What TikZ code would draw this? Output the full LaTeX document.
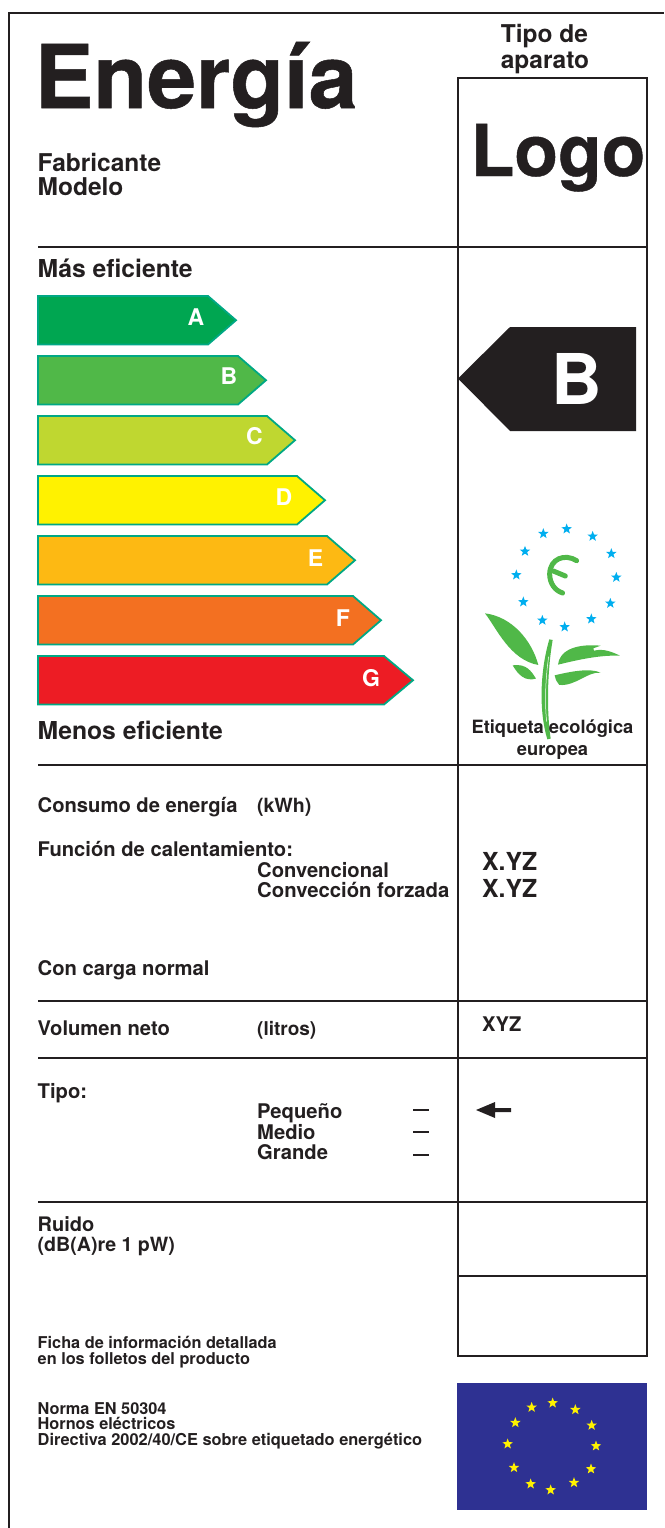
\documentclass[tikz,border=0pt]{standalone}
\usepackage{fontspec}
\setmainfont{TeX Gyre Heros}
\usetikzlibrary{shapes.geometric}
\definecolor{ink}{HTML}{231F20}
\definecolor{teal}{HTML}{00A884}
\definecolor{ca}{HTML}{00A651}
\definecolor{cb}{HTML}{50B848}
\definecolor{cc}{HTML}{BFD730}
\definecolor{cd}{HTML}{FFF200}
\definecolor{ce}{HTML}{FDB913}
\definecolor{cf}{HTML}{F37021}
\definecolor{cg}{HTML}{ED1C24}
\definecolor{flagblue}{HTML}{2E3192}
\definecolor{starblue}{HTML}{00AEEF}
\newcommand{\fs}[1]{\fontsize{#1}{#1}\selectfont\bfseries}
\newcommand{\heavy}{\addfontfeature{FakeBold=0.6}}
\tikzset{
  lbl/.style={anchor=base west,inner sep=0pt,text=ink,font=\fs{#1}},
  lbl/.default=20.2,
  ctr/.style={anchor=base,inner sep=0pt,text=ink,font=\fs{#1}},
  rule/.style={draw=ink,line width=1.8pt},
  band/.style={draw=teal,line width=1.8pt,line join=miter},
  letter/.style={anchor=center,inner sep=0pt,text=white,font=\fs{23}},
  estar/.style={star,star points=5,star point ratio=2.4,shape border rotate=0,inner sep=0pt,minimum size=11pt,fill=#1,draw=none},
  leaf/.style={fill=cb,draw=none}
}
\begin{document}
\begin{tikzpicture}[x=1pt,y=-1pt]
\useasboundingbox (0,0) rectangle (664,1528);
% frame
\draw[rule,line width=2pt] (9,1528) -- (9,13) -- (664,13);
\draw[rule] (458,78) rectangle (647,1356);
\foreach \yy in {247,765,1001,1058,1202} \draw[rule] (38,\yy) -- (647,\yy);
\draw[rule] (458,1276) -- (647,1276);
% heading
\node[lbl=88] (title) at (34.5,108) {\heavy Energía};
\node[lbl=71.5] (logo) at (470.5,176) {\heavy Logo};
\node[ctr=24.5] (tipo1) at (544.5,43) {Tipo de};
\node[ctr=24.5] (tipo2) at (545,68) {aparato};
\node[lbl=24.5] (fab) at (37.5,171) {Fabricante};
\node[lbl=24.5] (mod) at (37.5,195) {Modelo};
\node[lbl=24.7] (mas) at (37.5,277) {Más eficiente};
\node[lbl=24.7] (menos) at (37.5,739) {Menos eficiente};
% bands
\foreach \nm/\col/\top/\base/\tip/\lx/\ly in {
 A/ca/296/208/236/196/317,
 B/cb/356/238/266/229/376,
 C/cc/416/267/295/254.5/436,
 D/cd/476/297/325/284/497,
 E/ce/536/327/355/315.5/558,
 F/cf/596/353/381/343/618,
 G/cg/656/384/413/371/678}{
  \draw[band,fill=\col] (38,\top) -- (\base,\top) -- (\tip,\top+24.25) -- (\base,\top+48.5) -- (38,\top+48.5) -- cycle;
  \node[letter] (band\nm) at (\lx,\ly) {\nm};
}
% big class arrow
\fill[ink] (458,378.5) -- (510,327) -- (636,327) -- (636,431) -- (510,431) -- cycle;
\node[anchor=center,inner sep=0pt,text=white,font=\fs{70}] (bigB) at (576.5,379) {B};
% eco flower
\begin{scope}[shift={(440,500)},x=0.3333pt,y=-0.3333pt]
 \foreach \i/\xx/\yy in {1/380/87,2/458/109,3/514/161,4/529/232,5/511/310,6/454/357,7/374/381,8/307/361,9/250/306,10/229/225,11/255/154,12/310/101}
   \node[estar=starblue] (bs\i) at (\xx,\yy) {};
 \draw[cb,line width=5pt,line cap=round] (410,182) .. controls (375,160) and (330,175) .. (329,222) .. controls (329,250) and (345,272) .. (368,279);
 \draw[cb,line width=5pt,line cap=round] (340,213) -- (376,228);
 \fill[leaf] (135,340) .. controls (215,350) and (275,420) .. (295,495) .. controls (210,480) and (170,385) .. (135,340) -- cycle;
 \fill[leaf] (218,496) .. controls (260,490) and (275,515) .. (288,536) .. controls (255,545) and (235,525) .. (218,496) -- cycle;
 \fill[leaf] (354,494) .. controls (358,455) and (400,430) .. (482,437) -- (460,445) -- (462,452) .. controls (490,445) and (515,455) .. (540,467) .. controls (480,465) and (420,478) .. (354,494) -- cycle;
 \fill[leaf] (344,526) .. controls (390,515) and (450,503) .. (482,518) .. controls (440,515) and (410,558) .. (358,555) .. controls (350,548) and (347,538) .. (344,526) -- cycle;
 \fill[leaf] (328,418) -- (338,420) .. controls (324,500) and (318,620) .. (332,716) -- (322,718) .. controls (298,640) and (298,520) .. (328,418) -- cycle;
 \draw[white,line width=0.5pt] (326,470) .. controls (316,540) and (314,610) .. (320,665);
\end{scope}
\node[ctr=18.3] (eco1) at (552.5,733) {Etiqueta ecológica};
\node[ctr=18.3] (eco2) at (552.5,755) {europea};
% data rows
\node[lbl] (con) at (37.5,812) {Consumo de energía};
\node[lbl=19.6] (kwh) at (257,812) {(kWh)};
\node[lbl] (fun) at (37.5,856) {Función de calentamiento:};
\node[lbl] (conv) at (257,877) {Convencional};
\node[lbl=20.3] (forz) at (257,897) {Convección forzada};
\node[lbl=24.8] (xyz1) at (482,870) {X.YZ};
\node[lbl=24.8] (xyz2) at (482,897) {X.YZ};
\node[lbl] (carga) at (37.5,975) {Con carga normal};
\node[lbl] (vol) at (37.5,1035) {Volumen neto};
\node[lbl=19] (lit) at (257,1035) {(litros)};
\node[lbl] (xyz3) at (482,1031) {XYZ};
\node[lbl] (tipo) at (37.5,1098) {Tipo:};
\node[lbl] (peq) at (257,1118) {Pequeño};
\node[lbl] (med) at (257,1139) {Medio};
\node[lbl] (gra) at (257,1159) {Grande};
\foreach \yy in {1110,1132,1155} \draw[ink,line width=1.8pt] (413,\yy) -- (429,\yy);
\fill[ink] (476,1110) -- (495,1102) -- (495,1108) -- (511,1108) -- (511,1112) -- (495,1112) -- (495,1118) -- cycle;
\node[lbl=20] (rui) at (37.5,1231) {Ruido};
\node[lbl=19.6] (db) at (37.5,1251) {(dB(A)re 1 pW)};
\node[lbl=16.3] (fi1) at (37.5,1348) {Ficha de información detallada};
\node[lbl=16.3] (fi2) at (37.5,1364) {en los folletos del producto};
\node[lbl=16.3] (no1) at (37.5,1414) {Norma EN 50304};
\node[lbl=16.3] (no2) at (37.5,1429) {Hornos eléctricos};
\node[lbl=16.4] (no3) at (37.5,1445) {Directiva 2002/40/CE sobre etiquetado energético};
% flag
\fill[flagblue] (457,1383) rectangle (647,1510);
\begin{scope}[shift={(440,1370)},x=0.3333pt,y=-0.3333pt]
 \foreach \i/\xx/\yy in {1/338/99,2/406/119,3/455/166,4/468/228,5/453/297,6/402/338,7/332/360,8/272/342,9/222/293,10/203/222,11/226/158,12/275/112}
   \node[estar=yellow] (ys\i) at (\xx,\yy) {};
\end{scope}
\end{tikzpicture}
\end{document}
